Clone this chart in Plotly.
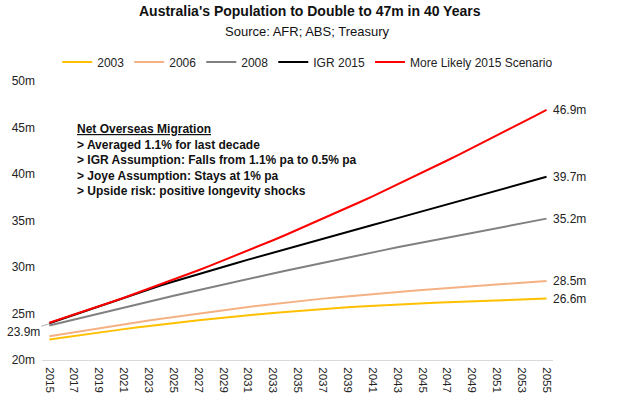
import plotly.graph_objects as go

years = list(range(2015, 2056))

s2003 = [22.20, 22.40, 22.59, 22.78, 22.96, 23.14, 23.32, 23.49, 23.66, 23.82,
         23.98, 24.13, 24.28, 24.42, 24.56, 24.69, 24.82, 24.94, 25.06, 25.17,
         25.28, 25.38, 25.48, 25.57, 25.66, 25.74, 25.82, 25.89, 25.96, 26.03,
         26.09, 26.15, 26.21, 26.26, 26.31, 26.36, 26.41, 26.46, 26.51, 26.55, 26.60]
s2006 = [22.55, 22.77, 22.99, 23.21, 23.42, 23.63, 23.84, 24.04, 24.24, 24.44,
         24.63, 24.82, 25.00, 25.18, 25.36, 25.53, 25.70, 25.86, 26.02, 26.17,
         26.32, 26.46, 26.60, 26.73, 26.86, 26.98, 27.10, 27.21, 27.32, 27.43,
         27.53, 27.63, 27.72, 27.81, 27.90, 27.99, 28.08, 28.17, 28.26, 28.38, 28.50]
s2008 = [23.70, 24.03, 24.36, 24.68, 25.01, 25.33, 25.65, 25.96, 26.28, 26.59,
         26.90, 27.21, 27.52, 27.82, 28.12, 28.42, 28.72, 29.01, 29.31, 29.60,
         29.89, 30.17, 30.46, 30.74, 31.02, 31.30, 31.57, 31.84, 32.12, 32.38,
         32.65, 32.92, 33.18, 33.44, 33.70, 33.95, 34.21, 34.46, 34.71, 34.95, 35.20]
igr2015 = [23.95, 24.41, 24.87, 25.33, 25.79, 26.25, 26.70, 27.15, 27.59, 28.02,
           28.44, 28.85, 29.25, 29.64, 30.03, 30.41, 30.79, 31.17, 31.55, 31.92,
           32.29, 32.66, 33.03, 33.40, 33.77, 34.14, 34.51, 34.88, 35.25, 35.62,
           35.99, 36.36, 36.73, 37.10, 37.47, 37.84, 38.21, 38.58, 38.95, 39.32, 39.70]
likely2015 = [24.00, 24.43, 24.87, 25.31, 25.77, 26.23, 26.69, 27.17, 27.65, 28.14,
              28.64, 29.14, 29.65, 30.17, 30.70, 31.23, 31.77, 32.32, 32.88, 33.44,
              34.02, 34.60, 35.18, 35.78, 36.38, 36.99, 37.60, 38.23, 38.86, 39.50,
              40.14, 40.79, 41.45, 42.12, 42.79, 43.47, 44.16, 44.85, 45.55, 46.20, 46.90]

series_names = ["2003", "2006", "2008", "IGR 2015", "More Likely 2015 Scenario"]
series_values = [s2003, s2006, s2008, igr2015, likely2015]
series_colors = ["#FFC000", "#F4B183", "#808080", "#000000", "#FF0000"]
end_labels = ["26.6m", "28.5m", "35.2m", "39.7m", "46.9m"]

y_tickvals = [20, 25, 30, 35, 40, 45, 50]
y_ticktext = ["20m", "25m", "30m", "35m", "40m", "45m", "50m"]
x_tickvals = list(range(2015, 2056, 2))

start_label = "23.9m"
start_value = 23.9

title_text = "Australia's Population to Double to 47m in 40 Years"
subtitle_text = "Source: AFR; ABS; Treasury"

note_title = "Net Overseas Migration"
note_lines = [
    "&gt; Averaged 1.1% for last decade",
    "&gt; IGR Assumption: Falls from 1.1% pa to 0.5% pa",
    "&gt; Joye Assumption: Stays at 1% pa",
    "&gt; Upside risk: positive longevity shocks",
]

FONT = "Liberation Sans, Arial, sans-serif"

fig = go.Figure()
for name, vals, col in zip(series_names, series_values, series_colors):
    fig.add_trace(go.Scatter(x=years, y=vals, mode="lines", name=name,
                             line=dict(color=col, width=2)))

annotations = []
for vals, lab in zip(series_values, end_labels):
    annotations.append(dict(x=years[-1], y=vals[-1], text=lab, showarrow=False,
                            xanchor="left", yanchor="middle", xshift=4,
                            font=dict(size=12, color="#222", family=FONT)))

annotations.append(dict(x=years[0], y=start_value, text=start_label,
                        showarrow=True, arrowhead=0, arrowwidth=0.8,
                        arrowcolor="#999", ax=-26, ay=8, xanchor="center",
                        font=dict(size=12, color="#222", family=FONT)))

note_text = "<b><u>" + note_title + "</u></b><br>" + "<br>".join("<b>" + l + "</b>" for l in note_lines)
annotations.append(dict(xref="paper", yref="paper", x=0.064, y=0.86,
                        xanchor="left", yanchor="top", align="left",
                        text=note_text, showarrow=False,
                        font=dict(size=12, color="#111", family=FONT)))

annotations.append(dict(xref="paper", yref="paper", x=0.524, y=1.251, yanchor="middle",
                        xanchor="center", showarrow=False, text="<b>" + title_text + "</b>",
                        font=dict(size=14, color="#111", family=FONT)))
annotations.append(dict(xref="paper", yref="paper", x=0.52, y=1.179, yanchor="middle",
                        xanchor="center", showarrow=False, text=subtitle_text,
                        font=dict(size=13, color="#111", family=FONT)))

fig.update_layout(
    width=620, height=404,
    margin=dict(l=42, r=67, t=81, b=44, autoexpand=False),
    paper_bgcolor="white", plot_bgcolor="white",
    font=dict(family=FONT, size=12, color="#222"),
    legend=dict(orientation="h", x=0.52, xanchor="center", y=1.068, yanchor="middle",
                font=dict(size=12, color="#222", family=FONT),
                itemwidth=30, tracegroupgap=0, bgcolor="rgba(0,0,0,0)"),
    showlegend=True,
    annotations=annotations,
)
fig.update_xaxes(range=[2014.41, 2055.52], tickvals=x_tickvals, ticktext=[str(v) for v in x_tickvals],
                 tickangle=90, showgrid=False, zeroline=False, showline=True,
                 linecolor="#D9D9D9", linewidth=1, ticks="", automargin=False,
                 ticklabelstandoff=4,
                 tickfont=dict(size=11.5, color="#222", family=FONT))
fig.update_yaxes(range=[20, 50], tickvals=y_tickvals, ticktext=y_ticktext,
                 showgrid=False, zeroline=False, showline=False, ticks="", automargin=False,
                 ticklabelstandoff=6,
                 tickfont=dict(size=12, color="#222", family=FONT))

fig.write_html("out.html", config={"displayModeBar": False},
               post_script="document.body.style.margin='0px';")
